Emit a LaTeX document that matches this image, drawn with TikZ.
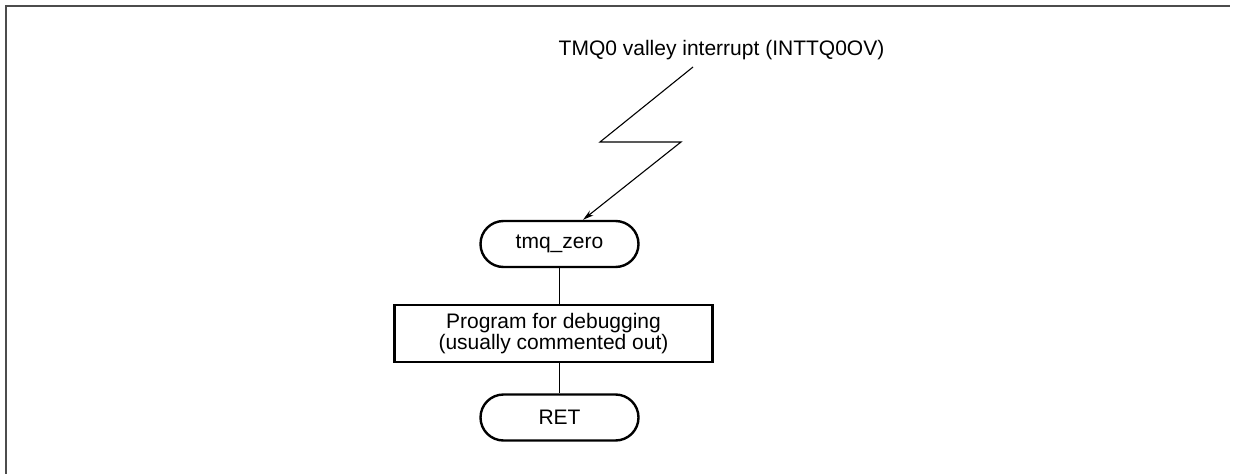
\documentclass[tikz,border=0pt]{standalone}
\usepackage{fontspec}
\setmainfont{Liberation Sans}
\usetikzlibrary{arrows.meta}
\begin{document}
\begin{tikzpicture}[x=1pt,y=-1pt,
  every node/.style={font=\fontsize{21}{21}\selectfont, inner sep=0pt},
  terminal/.style={draw, line width=2.4pt, rounded corners=23pt,
    minimum width=158pt, minimum height=46pt},
  process/.style={draw, line width=2.4pt, minimum width=318pt,
    minimum height=57pt, align=center},
  link/.style={line width=1.1pt},
  frameline/.style={line width=2pt, draw=black!70}]
\useasboundingbox (0,0) rectangle (1235,474);
% outer frame (top and left edges)
\draw[frameline] (6,474) -- (6,6) -- (1230,6);
% interrupt source label
\node[anchor=base] (lbl) at (721.5,55) {TMQ0 valley interrupt (INTTQ0OV)};
% flowchart
\node[terminal] (start) at (559.5,244) {tmq\_zero};
\node[process] (debug) at (553.5,333.5) {Program for debugging\\(usually commented out)};
\node[terminal] (ret) at (559.5,417.5) {RET};
% lightning-bolt interrupt arrow
\coordinate (z0) at (693,67);
\coordinate (z1) at (600,142);
\coordinate (z2) at (681,142);
\coordinate (tx) at (583,0);
\draw[link,-{Stealth[length=11pt,width=6pt]}] (z0) -- (z1) -- (z2) -- (start.north -| tx);
% flow connectors
\draw[link] (start.south) -- (start.south |- debug.north);
\draw[link] (start.south |- debug.south) -- (ret.north);
\end{tikzpicture}
\end{document}
